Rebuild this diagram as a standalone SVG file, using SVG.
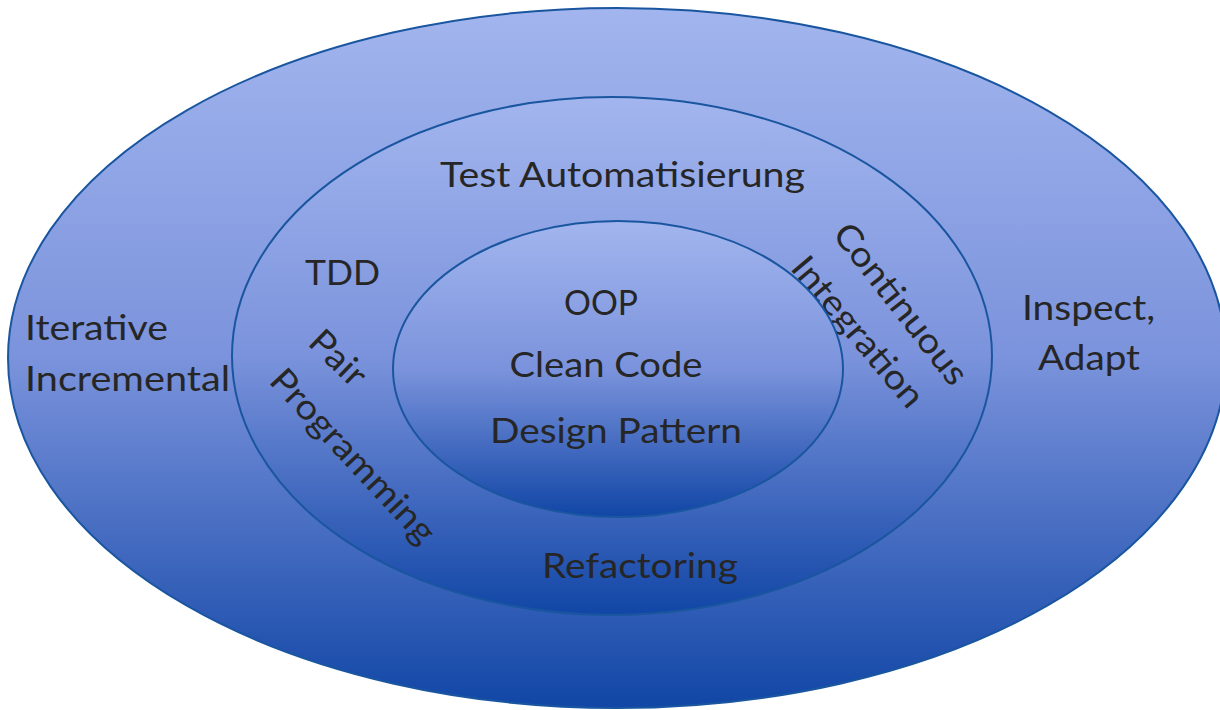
<svg xmlns="http://www.w3.org/2000/svg" width="1220" height="710" viewBox="0 0 1220 710">
<defs>
<linearGradient id="g" x1="0" y1="0" x2="0" y2="1">
<stop offset="0" stop-color="#a2b5ee"/>
<stop offset="0.5" stop-color="#7b93dc"/>
<stop offset="1" stop-color="#1146a6"/>
</linearGradient>
<style>
.ring{fill:url(#g);stroke:#1a56a0;stroke-width:2}
.t{font-family:Lato,"Liberation Sans",sans-serif;font-size:35px;fill:#262626}
.m{text-anchor:middle;dominant-baseline:central}
</style>
</defs>
<rect width="1220" height="710" fill="#ffffff"/>
<g id="outer">
<ellipse class="ring" cx="617" cy="358" rx="609" ry="350"/>
<text class="t" x="25" y="340" textLength="143" lengthAdjust="spacingAndGlyphs">Iterative</text>
<text class="t" x="25" y="391" textLength="205" lengthAdjust="spacingAndGlyphs">Incremental</text>
<text class="t" x="1022" y="320" textLength="133" lengthAdjust="spacingAndGlyphs">Inspect,</text>
<text class="t" x="1038" y="370" textLength="102" lengthAdjust="spacingAndGlyphs">Adapt</text>
</g>
<g id="middle">
<ellipse class="ring" cx="612" cy="356" rx="380" ry="259"/>
<text class="t" x="440" y="187" textLength="365" lengthAdjust="spacingAndGlyphs">Test Automatisierung</text>
<text class="t" x="305" y="285" textLength="75" lengthAdjust="spacingAndGlyphs">TDD</text>
<text class="t m" transform="translate(902,303) rotate(52) scale(1.1,1)">Continuous</text>
<text class="t m" transform="translate(859,331) rotate(50) scale(1.1,1)">Integration</text>
<text class="t m" transform="translate(339,357) rotate(44) scale(1.1,1)">Pair</text>
<text class="t m" transform="translate(354,455) rotate(47) scale(1.1,1)">Programming</text>
<text class="t" x="542" y="578" textLength="196" lengthAdjust="spacingAndGlyphs">Refactoring</text>
</g>
<g id="inner">
<ellipse class="ring" cx="618" cy="369" rx="225" ry="148"/>
<text class="t" x="601" y="315" text-anchor="middle" textLength="74" lengthAdjust="spacingAndGlyphs">OOP</text>
<text class="t" x="606" y="377" text-anchor="middle" textLength="193" lengthAdjust="spacingAndGlyphs">Clean Code</text>
<text class="t" x="616" y="443" text-anchor="middle" textLength="252" lengthAdjust="spacingAndGlyphs">Design Pattern</text>
</g>
</svg>
